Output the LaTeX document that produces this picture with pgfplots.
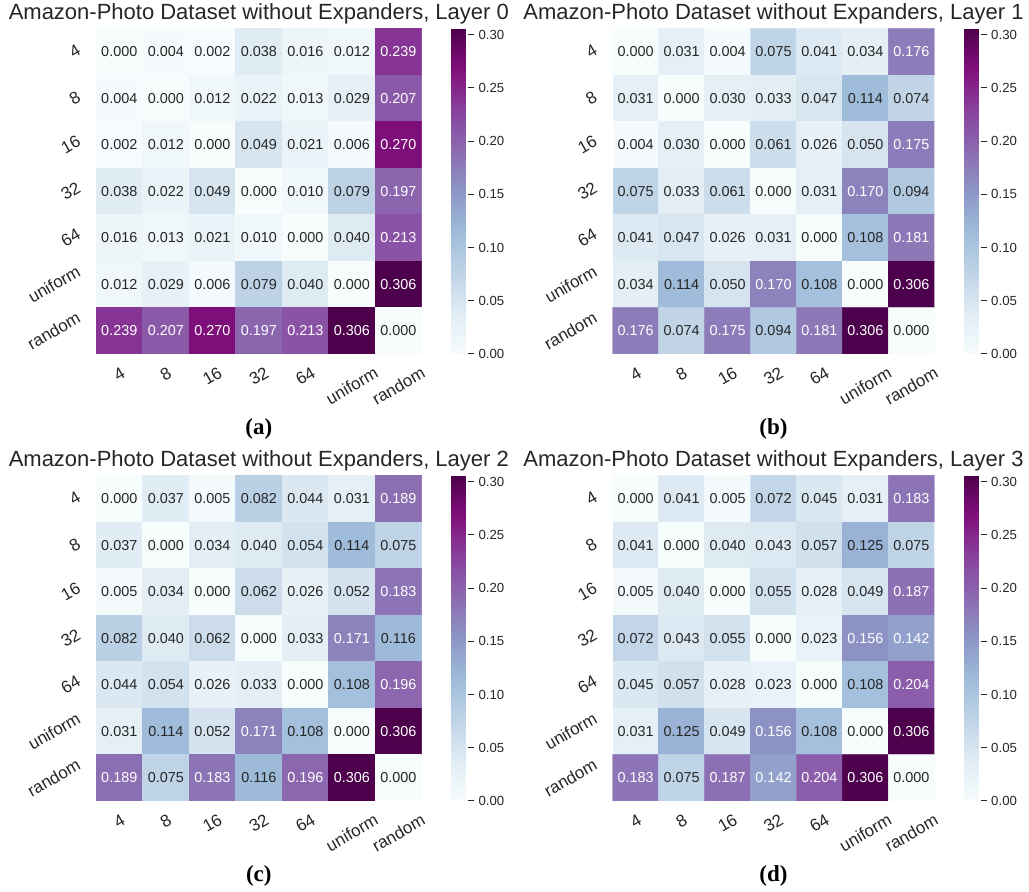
\documentclass[border=0pt]{standalone}
\usepackage{pgfplots}
\pgfplotsset{compat=1.18}
\usepackage{pgfplotstable}
\usepackage{graphicx}
\usepackage{fontspec}
\setmainfont{Liberation Sans}
\newfontfamily\capfont{Liberation Serif}
\definecolor{textdark}{HTML}{262626}

\newcommand\rl[1]{\rotatebox{30}{#1}}
\newcommand\ticfont{\fontsize{17}{20}\selectfont}
\newcommand\annfont{\fontsize{14.4}{17}\selectfont}
\newcommand\cbfont{\fontsize{13.2}{16}\selectfont}

% pairwise distances, one matrix row per line: x = column, y = row
\pgfplotstableread[row sep=\\]{
x y v\\
0 0 0.000\\ 1 0 0.004\\ 2 0 0.002\\ 3 0 0.038\\ 4 0 0.016\\ 5 0 0.012\\ 6 0 0.239\\
0 1 0.004\\ 1 1 0.000\\ 2 1 0.012\\ 3 1 0.022\\ 4 1 0.013\\ 5 1 0.029\\ 6 1 0.207\\
0 2 0.002\\ 1 2 0.012\\ 2 2 0.000\\ 3 2 0.049\\ 4 2 0.021\\ 5 2 0.006\\ 6 2 0.270\\
0 3 0.038\\ 1 3 0.022\\ 2 3 0.049\\ 3 3 0.000\\ 4 3 0.010\\ 5 3 0.079\\ 6 3 0.197\\
0 4 0.016\\ 1 4 0.013\\ 2 4 0.021\\ 3 4 0.010\\ 4 4 0.000\\ 5 4 0.040\\ 6 4 0.213\\
0 5 0.012\\ 1 5 0.029\\ 2 5 0.006\\ 3 5 0.079\\ 4 5 0.040\\ 5 5 0.000\\ 6 5 0.306\\
0 6 0.239\\ 1 6 0.207\\ 2 6 0.270\\ 3 6 0.197\\ 4 6 0.213\\ 5 6 0.306\\ 6 6 0.000\\
}\layerA
\pgfplotstableread[row sep=\\]{
x y v\\
0 0 0.000\\ 1 0 0.031\\ 2 0 0.004\\ 3 0 0.075\\ 4 0 0.041\\ 5 0 0.034\\ 6 0 0.176\\
0 1 0.031\\ 1 1 0.000\\ 2 1 0.030\\ 3 1 0.033\\ 4 1 0.047\\ 5 1 0.114\\ 6 1 0.074\\
0 2 0.004\\ 1 2 0.030\\ 2 2 0.000\\ 3 2 0.061\\ 4 2 0.026\\ 5 2 0.050\\ 6 2 0.175\\
0 3 0.075\\ 1 3 0.033\\ 2 3 0.061\\ 3 3 0.000\\ 4 3 0.031\\ 5 3 0.170\\ 6 3 0.094\\
0 4 0.041\\ 1 4 0.047\\ 2 4 0.026\\ 3 4 0.031\\ 4 4 0.000\\ 5 4 0.108\\ 6 4 0.181\\
0 5 0.034\\ 1 5 0.114\\ 2 5 0.050\\ 3 5 0.170\\ 4 5 0.108\\ 5 5 0.000\\ 6 5 0.306\\
0 6 0.176\\ 1 6 0.074\\ 2 6 0.175\\ 3 6 0.094\\ 4 6 0.181\\ 5 6 0.306\\ 6 6 0.000\\
}\layerB
\pgfplotstableread[row sep=\\]{
x y v\\
0 0 0.000\\ 1 0 0.037\\ 2 0 0.005\\ 3 0 0.082\\ 4 0 0.044\\ 5 0 0.031\\ 6 0 0.189\\
0 1 0.037\\ 1 1 0.000\\ 2 1 0.034\\ 3 1 0.040\\ 4 1 0.054\\ 5 1 0.114\\ 6 1 0.075\\
0 2 0.005\\ 1 2 0.034\\ 2 2 0.000\\ 3 2 0.062\\ 4 2 0.026\\ 5 2 0.052\\ 6 2 0.183\\
0 3 0.082\\ 1 3 0.040\\ 2 3 0.062\\ 3 3 0.000\\ 4 3 0.033\\ 5 3 0.171\\ 6 3 0.116\\
0 4 0.044\\ 1 4 0.054\\ 2 4 0.026\\ 3 4 0.033\\ 4 4 0.000\\ 5 4 0.108\\ 6 4 0.196\\
0 5 0.031\\ 1 5 0.114\\ 2 5 0.052\\ 3 5 0.171\\ 4 5 0.108\\ 5 5 0.000\\ 6 5 0.306\\
0 6 0.189\\ 1 6 0.075\\ 2 6 0.183\\ 3 6 0.116\\ 4 6 0.196\\ 5 6 0.306\\ 6 6 0.000\\
}\layerC
\pgfplotstableread[row sep=\\]{
x y v\\
0 0 0.000\\ 1 0 0.041\\ 2 0 0.005\\ 3 0 0.072\\ 4 0 0.045\\ 5 0 0.031\\ 6 0 0.183\\
0 1 0.041\\ 1 1 0.000\\ 2 1 0.040\\ 3 1 0.043\\ 4 1 0.057\\ 5 1 0.125\\ 6 1 0.075\\
0 2 0.005\\ 1 2 0.040\\ 2 2 0.000\\ 3 2 0.055\\ 4 2 0.028\\ 5 2 0.049\\ 6 2 0.187\\
0 3 0.072\\ 1 3 0.043\\ 2 3 0.055\\ 3 3 0.000\\ 4 3 0.023\\ 5 3 0.156\\ 6 3 0.142\\
0 4 0.045\\ 1 4 0.057\\ 2 4 0.028\\ 3 4 0.023\\ 4 4 0.000\\ 5 4 0.108\\ 6 4 0.204\\
0 5 0.031\\ 1 5 0.125\\ 2 5 0.049\\ 3 5 0.156\\ 4 5 0.108\\ 5 5 0.000\\ 6 5 0.306\\
0 6 0.183\\ 1 6 0.075\\ 2 6 0.187\\ 3 6 0.142\\ 4 6 0.204\\ 5 6 0.306\\ 6 6 0.000\\
}\layerD

\pgfplotsset{
  colormap={bupu}{
    rgb=(0.968627,0.988235,0.992157) rgb=(0.878431,0.925490,0.956863)
    rgb=(0.749020,0.827451,0.901961) rgb=(0.619608,0.737255,0.854902)
    rgb=(0.549020,0.588235,0.776471) rgb=(0.549020,0.419608,0.694118)
    rgb=(0.533333,0.254902,0.615686) rgb=(0.505882,0.058824,0.486275)
    rgb=(0.301961,0.000000,0.294118)},
  heat/.style={
    scale only axis, height=325.7pt,
    xmin=-0.5, xmax=6.5, ymin=-0.5, ymax=6.5, y dir=reverse,
    enlargelimits=false,
    xtick={0,...,6}, ytick={0,...,6},
    xticklabels={\rl{4},\rl{8},\rl{16},\rl{32},\rl{64},\rl{uniform},\rl{random}},
    yticklabels={\rl{4},\rl{8},\rl{16},\rl{32},\rl{64},\rl{uniform},\rl{random}},
    major tick length=0pt, axis line style={draw=none}, tick style={draw=none},
    xticklabel style={font=\ticfont, text=textdark, anchor=north, inner sep=0pt, yshift=-12pt},
    yticklabel style={font=\ticfont, text=textdark, anchor=east, inner sep=0pt, xshift=-14pt},
    point meta min=0, point meta max=0.306, colormap name=bupu,
    title style={font=\fontsize{22}{26}\selectfont, text=textdark,
      at={(0.5,1)}, anchor=base, inner sep=0pt, yshift=2.5pt},
    colorbar,
    colorbar style={
      scale only axis, width=16.7pt, height=325.7pt,
      at={(parent axis.north east)}, anchor=north west, xshift=21.5pt,
      ytick={0,0.05,0.1,0.15,0.2,0.25,0.3},
      yticklabels={0.00,0.05,0.10,0.15,0.20,0.25,0.30},
      yticklabel style={font=\cbfont, text=textdark, anchor=west, xshift=0pt,
        inner sep=4pt},
      axis line style={draw=none},
      tick style={draw=textdark, line width=1pt},
      major tick length=6pt, tick align=outside, ytick pos=right,
      yticklabel pos=right,
    },
  },
  hmcells/.style={matrix plot*, mesh/cols=7, point meta=\thisrow{v}},
  hmnums/.style={only marks, mark=*, mark size=0pt,
    mark options={draw=none, fill=none},
    point meta=\thisrow{v},
    nodes near coords={\pgfmathprintnumber[fixed, fixed zerofill, precision=3,
      assume math mode=true]{\pgfplotspointmeta}},
    every node near coord/.append style={anchor=center, font=\annfont,
      inner sep=0pt, text=#1}},
  darknums/.style={hmnums=textdark, restrict expr to domain={\thisrow{v}}{0:0.135}},
  lightnums/.style={hmnums=white, restrict expr to domain={\thisrow{v}}{0.135:1}},
}

\begin{document}
\begin{tikzpicture}
\useasboundingbox (0pt,0pt) rectangle (1029pt,892pt);

\begin{axis}[heat, width=325.7pt, at={(96pt,863.7pt)}, anchor=north west,
  title={Amazon-Photo Dataset without Expanders, Layer 0}]
  \addplot[hmcells] table[x=x, y=y] {\layerA};
  \addplot[darknums] table[x=x, y=y] {\layerA};
  \addplot[lightnums] table[x=x, y=y] {\layerA};
\end{axis}

\begin{axis}[heat, width=321.6pt, at={(612.7pt,863.7pt)}, anchor=north west,
  title={Amazon-Photo Dataset without Expanders, Layer 1}]
  \addplot[hmcells] table[x=x, y=y] {\layerB};
  \addplot[darknums] table[x=x, y=y] {\layerB};
  \addplot[lightnums] table[x=x, y=y] {\layerB};
\end{axis}

\begin{axis}[heat, width=325.7pt, at={(96pt,416.7pt)}, anchor=north west,
  title={Amazon-Photo Dataset without Expanders, Layer 2}]
  \addplot[hmcells] table[x=x, y=y] {\layerC};
  \addplot[darknums] table[x=x, y=y] {\layerC};
  \addplot[lightnums] table[x=x, y=y] {\layerC};
\end{axis}

\begin{axis}[heat, width=321.6pt, at={(612.7pt,416.7pt)}, anchor=north west,
  title={Amazon-Photo Dataset without Expanders, Layer 3}]
  \addplot[hmcells] table[x=x, y=y] {\layerD};
  \addplot[darknums] table[x=x, y=y] {\layerD};
  \addplot[lightnums] table[x=x, y=y] {\layerD};
\end{axis}

\begin{scope}[every node/.style={anchor=base, inner sep=0pt,
    font=\capfont\bfseries\fontsize{23}{27}\selectfont}]
  \node at (258.8pt,457pt) {(a)};
  \node at (773.5pt,457pt) {(b)};
  \node at (258.8pt,10.5pt) {(c)};
  \node at (773.5pt,10.5pt) {(d)};
\end{scope}
\end{tikzpicture}
\end{document}
